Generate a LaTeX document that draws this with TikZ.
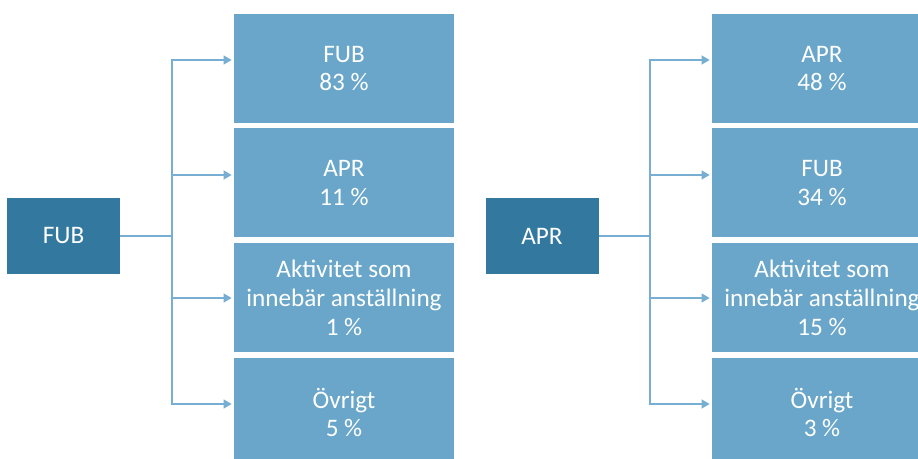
\documentclass[tikz,border=0pt]{standalone}
\usepackage{fontspec}
\setmainfont{Carlito}
\usepackage{tikz}
\usetikzlibrary{arrows.meta}

\definecolor{srcblue}{RGB}{51,121,159}
\definecolor{boxblue}{RGB}{105,166,201}
\definecolor{lineblue}{RGB}{120,174,210}

\tikzset{
  srcbox/.style={fill=srcblue, text=white, minimum width=56.5pt, minimum height=38pt, inner sep=0pt},
  outbox/.style={fill=boxblue, text=white, minimum width=110pt, minimum height=54.5pt, inner sep=0pt, align=center},
  link/.style={lineblue, line width=0.75pt},
  arr/.style={link, -{Triangle[length=4pt,width=4.5pt]}, shorten >=1pt}
}

\begin{document}
\begin{tikzpicture}[x=0.5pt, y=-0.5pt, font=\fontsize{12.6}{14.4}\selectfont]
\useasboundingbox (0,0) rectangle (918,459);
\clip (0,0) rectangle (918,459);

% Left group: from FUB
\node[srcbox] (fub) at (63.5,236) {FUB};
\node[outbox] (fubA) at (344,68.5) {FUB\\83 \%};
\node[outbox] (fubB) at (344,183) {APR\\11 \%};
\node[outbox] (fubC) at (344,298) {Aktivitet som\\innebär anställning\\1 \%};
\node[outbox] (fubD) at (344,412.5) {Övrigt\\5 \%};
\coordinate (fubsplit) at (172,236);

\draw[link] (fub.east) -- (fubsplit);
\draw[arr] (fubsplit) |- ([yshift=4.25pt]fubA.west);
\draw[arr] (fubsplit) |- ([yshift=4pt]fubB.west);
\draw[arr] (fubsplit) |- (fubC.west);
\draw[arr] (fubsplit) |- ([yshift=4.25pt]fubD.west);

% Right group: from APR
\node[srcbox] (apr) at (542,236) {APR};
\node[outbox] (aprA) at (822,68.5) {APR\\48 \%};
\node[outbox] (aprB) at (822,183) {FUB\\34 \%};
\node[outbox] (aprC) at (822,298) {Aktivitet som\\innebär anställning\\15 \%};
\node[outbox] (aprD) at (822,412.5) {Övrigt\\3 \%};
\coordinate (aprsplit) at (650,236);

\draw[link] (apr.east) -- (aprsplit);
\draw[arr] (aprsplit) |- ([yshift=4.25pt]aprA.west);
\draw[arr] (aprsplit) |- ([yshift=4pt]aprB.west);
\draw[arr] (aprsplit) |- (aprC.west);
\draw[arr] (aprsplit) |- ([yshift=4.25pt]aprD.west);
\end{tikzpicture}
\end{document}
